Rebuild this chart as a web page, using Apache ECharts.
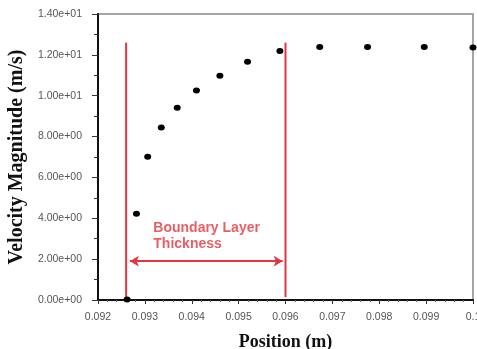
<!DOCTYPE html>
<html>
<head>
<meta charset="utf-8">
<script src="https://cdn.jsdelivr.net/npm/echarts@6/dist/echarts.min.js"></script>
<style>
html,body{margin:0;padding:0;background:#fff;}
#c{width:477px;height:349px;}
</style>
</head>
<body>
<div id="c"></div>
<script>
// Data
var positions = [0.09262, 0.09282, 0.09306, 0.09335, 0.09369, 0.09410, 0.09460, 0.09519, 0.09588, 0.09673, 0.09775, 0.09896, 0.1000];
var velocities = [0.02, 4.22, 7.01, 8.45, 9.41, 10.25, 10.98, 11.66, 12.19, 12.38, 12.38, 12.38, 12.36];
var boundaryX = [0.09260, 0.09600];
var boundaryLineRange = [0.15, 12.6];
var arrowY = 1.9;
var arrowX = [0.09268, 0.09594];
var annotationText = 'Boundary Layer\nThickness';
var annotationPos = [0.09318, 3.13];
var xTicks = {min: 0.092, max: 0.1, interval: 0.001};
var yTicks = {min: 0, max: 14, interval: 2};

function expFmt(v) {
  if (v === 0) return '0.00e+00';
  var e = Math.floor(Math.log10(Math.abs(v)) + 1e-9);
  var m = v / Math.pow(10, e);
  var es = (e < 0 ? '-' : '+') + (Math.abs(e) < 10 ? '0' : '') + Math.abs(e);
  return m.toFixed(2) + 'e' + es;
}

var red = '#e3343f';
var chart = echarts.init(document.getElementById('c'));

var series = [{
  type: 'scatter',
  data: positions.map(function (x, i) { return [x, velocities[i]]; }),
  symbol: 'circle',
  symbolSize: [7, 6],
  itemStyle: {color: '#000', opacity: 1},
  clip: false,
  z: 5
}];
boundaryX.forEach(function (bx) {
  series.push({
    type: 'line',
    data: [[bx, boundaryLineRange[0]], [bx, boundaryLineRange[1]]],
    symbol: 'none',
    lineStyle: {color: red, width: 2},
    silent: true,
    z: 3
  });
});
series.push({
  type: 'scatter',
  data: [annotationPos],
  symbolSize: 0,
  silent: true,
  label: {
    show: true,
    position: 'right',
    distance: 0,
    formatter: annotationText,
    color: red,
    fontFamily: 'Liberation Sans, Arial, sans-serif',
    fontWeight: 'bold',
    fontSize: 14,
    lineHeight: 16,
    align: 'left',
    verticalAlign: 'middle'
  },
  markLine: {
    silent: true,
    symbol: ['arrow', 'arrow'],
    symbolSize: [8, 9],
    label: {show: false},
    lineStyle: {color: red, width: 2, type: 'solid'},
    data: [[{coord: [arrowX[0], arrowY]}, {coord: [arrowX[1], arrowY]}]]
  }
});

chart.setOption({
  animation: false,
  backgroundColor: '#fff',
  grid: {left: 98, right: 4, top: 14, bottom: 49, containLabel: false, outerBoundsMode: 'none', show: true, borderColor: '#8a8a8a', borderWidth: 1.5, backgroundColor: 'transparent'},
  xAxis: {
    type: 'value',
    min: xTicks.min, max: xTicks.max, interval: xTicks.interval,
    name: 'Position (m)',
    nameLocation: 'middle',
    nameGap: 33,
    nameTextStyle: {fontFamily: 'Liberation Serif, Times New Roman, serif', fontWeight: 'bold', fontSize: 18, color: '#111'},
    axisLine: {show: true, onZero: false, lineStyle: {color: '#111', width: 2}},
    axisTick: {show: true, inside: false, length: 4, lineStyle: {color: '#333'}},
    minorTick: {show: true, splitNumber: 5, length: 2, lineStyle: {color: '#666'}},
    splitLine: {show: false},
    axisLabel: {
      margin: 12, color: '#555', fontSize: 10.5, fontFamily: 'Liberation Sans, Arial, sans-serif',
      formatter: function (v) { return String(+v.toFixed(3)); }
    }
  },
  yAxis: {
    type: 'value',
    min: yTicks.min, max: yTicks.max, interval: yTicks.interval,
    name: 'Velocity Magnitude (m/s)',
    nameLocation: 'middle',
    nameGap: 62,
    nameTextStyle: {fontFamily: 'Liberation Serif, Times New Roman, serif', fontWeight: 'bold', fontSize: 20, color: '#111'},
    axisLine: {show: true, onZero: false, lineStyle: {color: '#111', width: 2}},
    axisTick: {show: true, inside: false, length: 6, lineStyle: {color: '#333'}},
    minorTick: {show: true, splitNumber: 2, length: 4, lineStyle: {color: '#333'}},
    splitLine: {show: false},
    axisLabel: {
      margin: 16, color: '#555', fontSize: 10.5, fontFamily: 'Liberation Sans, Arial, sans-serif',
      formatter: expFmt
    }
  },
  series: series
});
</script>
</body>
</html>
